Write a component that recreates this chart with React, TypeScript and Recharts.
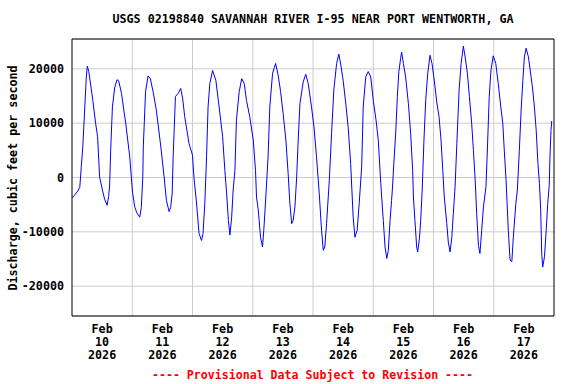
import React from "react"
import {
  CartesianGrid,
  Line,
  LineChart,
  ReferenceArea,
  XAxis,
  YAxis,
} from "recharts"

// hours since Feb 10 2026 00:00 (local)
const hours = [
  0, 1.1, 2.3, 3.1, 3.7, 4.3, 5.1, 5.7, 6.1, 6.7, 8.3, 9.4, 10.2, 11.0, 12.2, 13.0, 14.0, 14.6, 15.0, 15.4,
  16.1, 17.0, 17.9, 18.6, 19.7, 21.4, 23.0, 24.1, 25.0, 25.8, 27.0, 27.6, 28.2, 28.4, 29.3, 30.3, 31.2, 32.3,
  33.6, 35.4, 36.7, 37.6, 38.7, 39.3, 39.9, 40.3, 41.2, 42.3, 43.3, 44.1, 44.9, 46.6, 48.0, 48.6, 49.6, 50.6,
  51.6, 52.2, 52.9, 53.6, 54.2, 54.9, 56.0, 57.3, 58.6, 60.0, 60.9, 61.6, 62.3, 62.9, 63.6, 64.2, 64.9, 65.5,
  66.6, 67.6, 68.6, 69.5, 70.8, 72.2, 73.1, 73.5, 74.2, 75.1, 75.9, 76.4, 77.2, 78.1, 78.8, 79.9, 81.1, 82.1,
  83.1, 84.1, 85.2, 86.1, 86.8, 87.5, 88.1, 88.8, 89.5, 90.1, 90.8, 92.1, 93.1, 94.1, 95.4, 96.4, 97.4, 98.5,
  99.4, 100.1, 100.7, 101.4, 102.5, 103.4, 104.3, 105.4, 106.3, 107.1, 108.0, 109.0, 110.0, 111.0, 112.0,
  112.7, 113.6, 114.4, 115.4, 116.0, 117.0, 118.0, 119.0, 120.0, 121.1, 122.0, 123.0, 124.0, 124.7, 125.4,
  126.0, 126.7, 127.3, 127.6, 128.2, 129.0, 129.6, 130.2, 130.9, 131.3, 132.0, 132.9, 134.0, 134.9, 135.7,
  136.0, 136.6, 137.3, 137.7, 138.4, 138.9, 139.5, 140.2, 140.9, 141.7, 142.6, 143.4, 144.3, 145.3, 146.2,
  147.0, 147.7, 148.3, 149.3, 149.9, 150.6, 151.3, 151.9, 152.6, 153.3, 154.2, 155.0, 155.9, 156.6, 157.5,
  158.3, 159.2, 159.9, 160.6, 161.2, 161.9, 162.5, 163.2, 163.9, 164.9, 165.5, 166.2, 166.9, 167.8, 168.8,
  169.8, 170.8, 171.6, 172.2, 172.9, 173.8, 174.5, 175.2, 175.8, 176.8, 177.4, 178.2, 178.9, 179.6, 180.2,
  180.9, 181.8, 182.5, 183.4, 184.2, 184.9, 185.6, 186.2, 186.7, 187.1, 187.5, 188.2, 188.9, 189.5, 190.1,
  190.4, 190.8, 191.1,
]

// discharge, cubic feet per second
const discharge = [
  -3800, -3200, -2500, -1800, 2000, 5600, 13000, 18500, 20500, 19500, 14200, 10000, 7500, 100, -2500, -4000,
  -5100, -3500, -1400, 5000, 13000, 16500, 18000, 17800, 15500, 10000, 3800, -2700, -5400, -6500, -7300,
  -5500, 0, 5600, 15800, 18700, 18200, 15800, 12400, 5600, 100, -4200, -6300, -5500, -3000, 3800, 14900,
  15500, 16400, 14500, 11200, 6300, 4100, -100, -4700, -10300, -11600, -10300, -4800, 3800, 13000, 17300,
  19700, 17900, 13000, 7500, 1300, -3000, -7900, -10600, -7300, -2300, 1300, 10600, 15800, 18200, 17300,
  14200, 11200, 6900, 1300, -3600, -6000, -11000, -12800, -9700, -3600, 3800, 13000, 19200, 21000, 18900,
  15800, 11800, 6900, 700, -4800, -8500, -7900, -5400, 100, 6900, 13600, 17600, 19000, 17300, 13000, 9300,
  3800, -3000, -9700, -13400, -12800, -8500, -500, 8100, 16100, 21000, 22700, 20700, 17900, 13900, 9300,
  2600, -7300, -11000, -9700, -4800, 2000, 13000, 18500, 19500, 18500, 14200, 10600, 6900, -1100, -7900,
  -12800, -14900, -13400, -7900, -4200, -2300, 2600, 8700, 14900, 19500, 21900, 23100, 21000, 18500, 13600,
  8100, 1300, -3600, -7900, -12800, -13700, -11200, -7900, -2300, 6900, 14200, 19200, 22500, 21000, 17900,
  13900, 11200, 6900, 1300, -3600, -8500, -11900, -13700, -11000, -6600, -1700, 6300, 16100, 21000, 24200,
  22200, 19200, 14900, 10000, 5000, -500, -6600, -12500, -14000, -9700, -5400, -1700, 5600, 14900, 19800,
  22400, 21000, 17300, 13000, 10000, 5000, -500, -9700, -15200, -15500, -11000, -4800, -2300, 5000, 12400,
  17900, 22200, 23800, 22200, 19800, 16700, 13000, 8700, 2600, -1100, -6000, -14000, -16500, -14600, -9700,
  -4800, -1500, 3800, 8700, 10400,
]

const dayLabels = ["10", "11", "12", "13", "14", "15", "16", "17"]
const labelHours = [12, 36, 60, 84, 108, 132, 156, 180]
const midnightHours = [24, 48, 72, 96, 120, 144, 168]
const yTicks = [-20000, -10000, 0, 10000, 20000]

const data = hours.map((h, i) => ({ h, q: discharge[i] }))

const font = "'DejaVu Sans Mono', monospace"

const DayTick = (props: any) => {
  const { x, y, payload } = props
  const idx = labelHours.indexOf(payload.value)
  return (
    <g>
      {["Feb", dayLabels[idx], "2026"].map((t, i) => (
        <text
          key={i}
          x={x}
          y={y + 5 + i * 13}
          textAnchor="middle"
          dominantBaseline="central"
          fontFamily={font}
          fontWeight="bold"
          fontSize={11.7}
          fill="#000"
        >
          {t}
        </text>
      ))}
    </g>
  )
}

export default function App() {
  return (
    <div style={{ position: "absolute", left: 0, top: 0, width: 576, height: 384, background: "#fff" }}>
      <div
        style={{
          position: "absolute",
          left: 72,
          width: 482,
          top: 11,
          textAlign: "center",
          fontFamily: font,
          fontWeight: "bold",
          fontSize: 11.7,
          lineHeight: "16px",
          whiteSpace: "nowrap",
        }}
      >
        USGS 02198840 SAVANNAH RIVER I-95 NEAR PORT WENTWORTH, GA
      </div>
      <div
        style={{
          position: "absolute",
          left: 13 - 150,
          top: 178 - 8,
          width: 300,
          textAlign: "center",
          transform: "rotate(-90deg)",
          fontFamily: font,
          fontWeight: "bold",
          fontSize: 11.7,
          lineHeight: "16px",
          whiteSpace: "nowrap",
        }}
      >
        Discharge, cubic feet per second
      </div>
      <LineChart
        width={576}
        height={384}
        data={data}
        margin={{ top: 39, right: 22, bottom: 0, left: 0 }}
      >
        <CartesianGrid stroke="#cccccc" verticalValues={midnightHours} />
        <XAxis
          dataKey="h"
          type="number"
          domain={[0, 192]}
          ticks={labelHours}
          interval={0}
          tickLine={false}
          axisLine={false}
          height={68}
          tick={<DayTick />}
        />
        <YAxis
          type="number"
          domain={[-25500, 25500]}
          ticks={yTicks}
          interval={0}
          allowDataOverflow
          tickLine={false}
          axisLine={false}
          width={72}
          tick={{ fontFamily: font, fontWeight: "bold", fontSize: 11.7, fill: "#000" }}
        />
        <Line
          type="linear"
          dataKey="q"
          stroke="#0000ff"
          strokeWidth={1}
          dot={false}
          isAnimationActive={false}
        />
        <ReferenceArea
          x1={0}
          x2={192}
          y1={-25500}
          y2={25500}
          fill="none"
          stroke="#000"
          strokeWidth={1}
          ifOverflow="visible"
        />
      </LineChart>
      <div
        style={{
          position: "absolute",
          left: 62,
          width: 501,
          top: 367,
          textAlign: "center",
          color: "#ff0000",
          fontFamily: font,
          fontWeight: "bold",
          fontSize: 11.6,
          lineHeight: "16px",
          whiteSpace: "nowrap",
        }}
      >
        ---- Provisional Data Subject to Revision ----
      </div>
    </div>
  )
}
